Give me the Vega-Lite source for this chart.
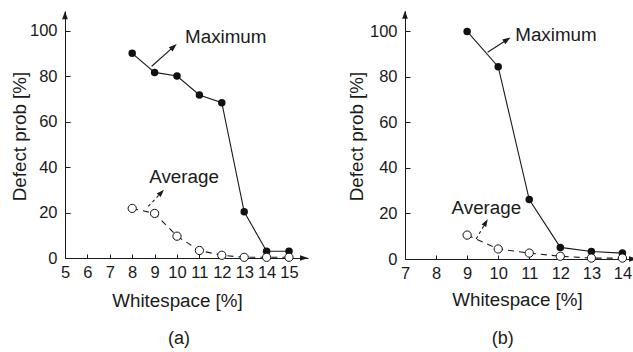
{
  "$schema": "https://vega.github.io/schema/vega-lite/v6.json",
  "background": "white",
  "padding": {"left": 10, "top": 10, "right": 0, "bottom": 0},
  "config": {
    "view": {"stroke": null},
    "concat": {"spacing": 38},
    "font": "Liberation Sans",
    "axis": {
      "grid": false,
      "domainColor": "#1a1a1a",
      "tickColor": "#1a1a1a",
      "labelColor": "#1a1a1a",
      "titleColor": "#1a1a1a",
      "labelFont": "Liberation Sans",
      "titleFont": "Liberation Sans",
      "labelFontSize": 16.5,
      "titleFontSize": 18.8,
      "titleFontWeight": "normal",
      "labelFlush": false,
      "labelOverlap": false,
      "labelBound": false
    },
    "axisX": {"tickSize": -4, "labelPadding": 10.5, "titleBaseline": "alphabetic"},
    "axisY": {"tickSize": -5, "labelPadding": 13, "titleBaseline": "middle", "titleAngle": -90, "titleAlign": "center"}
  },
  "datasets": {
    "curvesA": [
      {"x": 8, "y": 90, "s": "Maximum"},
      {"x": 9, "y": 81.6, "s": "Maximum"},
      {"x": 10, "y": 80, "s": "Maximum"},
      {"x": 11, "y": 71.7, "s": "Maximum"},
      {"x": 12, "y": 68.3, "s": "Maximum"},
      {"x": 13, "y": 20.3, "s": "Maximum"},
      {"x": 14, "y": 3, "s": "Maximum"},
      {"x": 15, "y": 3, "s": "Maximum"},
      {"x": 8, "y": 21.8, "s": "Average"},
      {"x": 9, "y": 19.6, "s": "Average"},
      {"x": 10, "y": 9.6, "s": "Average"},
      {"x": 11, "y": 3.3, "s": "Average"},
      {"x": 12, "y": 1.2, "s": "Average"},
      {"x": 13, "y": 0.3, "s": "Average"},
      {"x": 14, "y": 0.3, "s": "Average"},
      {"x": 15, "y": 0.3, "s": "Average"}
    ],
    "curvesB": [
      {"x": 9, "y": 100, "s": "Maximum"},
      {"x": 10, "y": 84.5, "s": "Maximum"},
      {"x": 11, "y": 26.1, "s": "Maximum"},
      {"x": 12, "y": 5.1, "s": "Maximum"},
      {"x": 13, "y": 3.3, "s": "Maximum"},
      {"x": 14, "y": 2.6, "s": "Maximum"},
      {"x": 9, "y": 10.5, "s": "Average"},
      {"x": 10, "y": 4.4, "s": "Average"},
      {"x": 11, "y": 2.6, "s": "Average"},
      {"x": 12, "y": 1.2, "s": "Average"},
      {"x": 13, "y": 0.4, "s": "Average"},
      {"x": 14, "y": 0.4, "s": "Average"}
    ],
    "arrowsA": [
      {"k": "max", "x": 8.87, "y": 84.3, "x2": 9.83, "y2": 92.7},
      {"k": "avg", "x": 8.72, "y": 22.7, "x2": 9.28, "y2": 28.6}
    ],
    "arrowsB": [
      {"k": "max", "x": 9.66, "y": 90.8, "x2": 10.27, "y2": 96.2},
      {"k": "avg", "x": 9.29, "y": 8.8, "x2": 9.59, "y2": 15.8}
    ],
    "labelsA": [
      {"x": 10.36, "y": 94.5, "label": "Maximum"},
      {"x": 8.76, "y": 33.0, "label": "Average"}
    ],
    "labelsB": [
      {"x": 10.55, "y": 95.9, "label": "Maximum"},
      {"x": 8.5, "y": 19.8, "label": "Average"}
    ],
    "captionA": [{"x": 10.09, "y": -37.9, "label": "(a)"}],
    "captionB": [{"x": 10.15, "y": -37.2, "label": "(b)"}],
    "axisEndsA": [
      {"k": "x", "x": 15.638, "y": 0},
      {"k": "y", "x": 5, "y": 106.4}
    ],
    "axisEndsB": [
      {"k": "x", "x": 14.318, "y": 0},
      {"k": "y", "x": 7, "y": 107.0}
    ]
  },
  "hconcat": [
    {
      "width": 243,
      "height": 247,
      "encoding": {
        "x": {
          "field": "x", "type": "quantitative",
          "scale": {"domain": [5, 15.848], "nice": false, "zero": false},
          "axis": {"values": [5, 6, 7, 8, 9, 10, 11, 12, 13, 14, 15], "title": "Whitespace [%]", "titleX": 112, "titleY": 48.3}
        },
        "y": {
          "field": "y", "type": "quantitative",
          "scale": {"domain": [0, 108.6], "nice": false, "zero": false},
          "axis": {"values": [0, 20, 40, 60, 80, 100], "title": "Defect prob [%]", "titleX": -45.8, "titleY": 125}
        }
      },
      "layer": [
        {"data": {"name": "curvesA"}, "transform": [{"filter": "datum.s === 'Maximum'"}],
         "mark": {"type": "line", "color": "#1a1a1a", "strokeWidth": 1.1}},
        {"data": {"name": "curvesA"}, "transform": [{"filter": "datum.s === 'Average'"}],
         "mark": {"type": "line", "color": "#1a1a1a", "strokeWidth": 1.1, "strokeDash": [6, 5]}},
        {"data": {"name": "arrowsA"}, "transform": [{"filter": "datum.k === 'max'"}],
         "mark": {"type": "rule", "color": "#1a1a1a", "strokeWidth": 1.1},
         "encoding": {"x2": {"field": "x2"}, "y2": {"field": "y2"}}},
        {"data": {"name": "arrowsA"}, "transform": [{"filter": "datum.k === 'avg'"}],
         "mark": {"type": "rule", "color": "#1a1a1a", "strokeWidth": 1.1, "strokeDash": [3, 3]},
         "encoding": {"x2": {"field": "x2"}, "y2": {"field": "y2"}}},
        {"data": {"name": "arrowsA"}, "transform": [{"filter": "datum.k === 'max'"}],
         "mark": {"type": "point", "shape": "M0,-1L0.6,0.7L-0.6,0.7Z", "filled": true, "color": "#1a1a1a", "opacity": 1, "size": 90, "angle": 48},
         "encoding": {"x": {"field": "x2", "type": "quantitative"}, "y": {"field": "y2", "type": "quantitative"}}},
        {"data": {"name": "arrowsA"}, "transform": [{"filter": "datum.k === 'avg'"}],
         "mark": {"type": "point", "shape": "M0,-1L0.6,0.7L-0.6,0.7Z", "filled": true, "color": "#1a1a1a", "opacity": 1, "size": 80, "angle": 43},
         "encoding": {"x": {"field": "x2", "type": "quantitative"}, "y": {"field": "y2", "type": "quantitative"}}},
        {"data": {"name": "curvesA"}, "transform": [{"filter": "datum.s === 'Maximum'"}],
         "mark": {"type": "point", "shape": "circle", "filled": true, "color": "#111111", "opacity": 1, "size": 56}},
        {"data": {"name": "curvesA"}, "transform": [{"filter": "datum.s === 'Average'"}],
         "mark": {"type": "point", "shape": "circle", "filled": true, "fill": "white", "stroke": "#111111", "strokeWidth": 1, "opacity": 1, "size": 68}},
        {"data": {"name": "labelsA"},
         "mark": {"type": "text", "align": "left", "baseline": "alphabetic", "fontSize": 18.8, "color": "#1a1a1a", "font": "Liberation Sans"},
         "encoding": {"text": {"field": "label"}}},
        {"data": {"name": "captionA"},
         "mark": {"type": "text", "align": "center", "baseline": "alphabetic", "fontSize": 18, "color": "#1a1a1a", "font": "Liberation Sans"},
         "encoding": {"text": {"field": "label"}}},
        {"data": {"name": "axisEndsA"}, "transform": [{"filter": "datum.k === 'x'"}],
         "mark": {"type": "point", "shape": "M0,-1L0.6,0.7L-0.6,0.7Z", "filled": true, "color": "#1a1a1a", "opacity": 1, "size": 90, "angle": 90}},
        {"data": {"name": "axisEndsA"}, "transform": [{"filter": "datum.k === 'y'"}],
         "mark": {"type": "point", "shape": "M0,-1L0.6,0.7L-0.6,0.7Z", "filled": true, "color": "#1a1a1a", "opacity": 1, "size": 90, "angle": 0}}
      ]
    },
    {
      "width": 232,
      "height": 248,
      "encoding": {
        "x": {
          "field": "x", "type": "quantitative",
          "scale": {"domain": [7, 14.469], "nice": false, "zero": false},
          "axis": {"values": [7, 8, 9, 10, 11, 12, 13, 14], "title": "Whitespace [%]", "titleX": 112, "titleY": 46.7}
        },
        "y": {
          "field": "y", "type": "quantitative",
          "scale": {"domain": [0, 108.96], "nice": false, "zero": false},
          "axis": {"values": [0, 20, 40, 60, 80, 100], "title": "Defect prob [%]", "titleX": -48.1, "titleY": 125}
        }
      },
      "layer": [
        {"data": {"name": "curvesB"}, "transform": [{"filter": "datum.s === 'Maximum'"}],
         "mark": {"type": "line", "color": "#1a1a1a", "strokeWidth": 1.1}},
        {"data": {"name": "curvesB"}, "transform": [{"filter": "datum.s === 'Average'"}],
         "mark": {"type": "line", "color": "#1a1a1a", "strokeWidth": 1.1, "strokeDash": [6, 5]}},
        {"data": {"name": "arrowsB"}, "transform": [{"filter": "datum.k === 'max'"}],
         "mark": {"type": "rule", "color": "#1a1a1a", "strokeWidth": 1.1},
         "encoding": {"x2": {"field": "x2"}, "y2": {"field": "y2"}}},
        {"data": {"name": "arrowsB"}, "transform": [{"filter": "datum.k === 'avg'"}],
         "mark": {"type": "rule", "color": "#1a1a1a", "strokeWidth": 1.1, "strokeDash": [3, 3]},
         "encoding": {"x2": {"field": "x2"}, "y2": {"field": "y2"}}},
        {"data": {"name": "arrowsB"}, "transform": [{"filter": "datum.k === 'max'"}],
         "mark": {"type": "point", "shape": "M0,-1L0.6,0.7L-0.6,0.7Z", "filled": true, "color": "#1a1a1a", "opacity": 1, "size": 90, "angle": 56},
         "encoding": {"x": {"field": "x2", "type": "quantitative"}, "y": {"field": "y2", "type": "quantitative"}}},
        {"data": {"name": "arrowsB"}, "transform": [{"filter": "datum.k === 'avg'"}],
         "mark": {"type": "point", "shape": "M0,-1L0.6,0.7L-0.6,0.7Z", "filled": true, "color": "#1a1a1a", "opacity": 1, "size": 80, "angle": 30},
         "encoding": {"x": {"field": "x2", "type": "quantitative"}, "y": {"field": "y2", "type": "quantitative"}}},
        {"data": {"name": "curvesB"}, "transform": [{"filter": "datum.s === 'Maximum'"}],
         "mark": {"type": "point", "shape": "circle", "filled": true, "color": "#111111", "opacity": 1, "size": 56}},
        {"data": {"name": "curvesB"}, "transform": [{"filter": "datum.s === 'Average'"}],
         "mark": {"type": "point", "shape": "circle", "filled": true, "fill": "white", "stroke": "#111111", "strokeWidth": 1, "opacity": 1, "size": 68}},
        {"data": {"name": "labelsB"},
         "mark": {"type": "text", "align": "left", "baseline": "alphabetic", "fontSize": 18.8, "color": "#1a1a1a", "font": "Liberation Sans"},
         "encoding": {"text": {"field": "label"}}},
        {"data": {"name": "captionB"},
         "mark": {"type": "text", "align": "center", "baseline": "alphabetic", "fontSize": 18, "color": "#1a1a1a", "font": "Liberation Sans"},
         "encoding": {"text": {"field": "label"}}},
        {"data": {"name": "axisEndsB"}, "transform": [{"filter": "datum.k === 'x'"}],
         "mark": {"type": "point", "shape": "M0,-1L0.6,0.7L-0.6,0.7Z", "filled": true, "color": "#1a1a1a", "opacity": 1, "size": 90, "angle": 90}},
        {"data": {"name": "axisEndsB"}, "transform": [{"filter": "datum.k === 'y'"}],
         "mark": {"type": "point", "shape": "M0,-1L0.6,0.7L-0.6,0.7Z", "filled": true, "color": "#1a1a1a", "opacity": 1, "size": 90, "angle": 0}}
      ]
    }
  ]
}
